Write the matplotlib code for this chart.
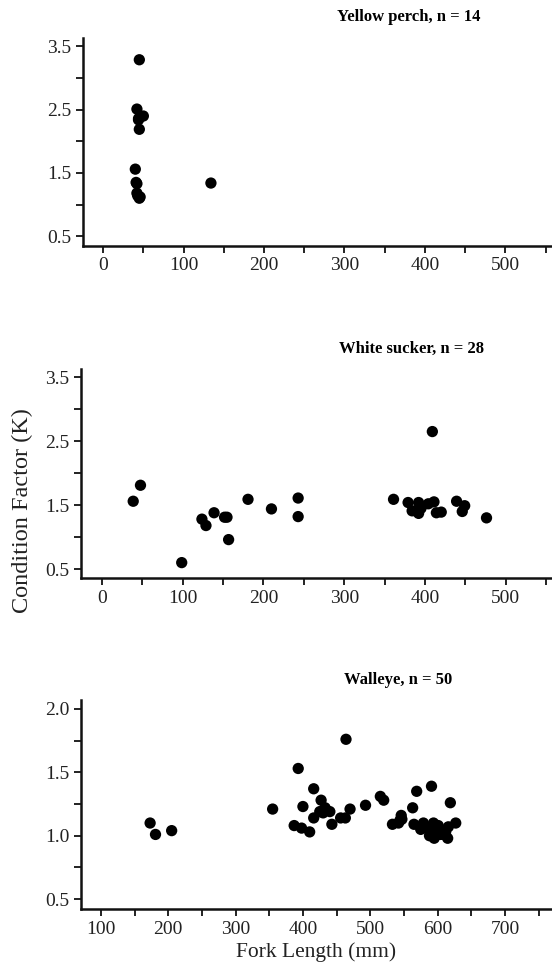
import matplotlib
matplotlib.use("Agg")
import matplotlib.pyplot as plt
from matplotlib.ticker import MultipleLocator, FormatStrFormatter

plt.rcParams['font.family'] = ['Liberation Serif', 'DejaVu Serif']

# yellow perch
yp_len = [45, 42, 50, 44, 45, 40, 41, 42, 45, 134, 43, 44, 42, 46]
yp_k = [3.29, 2.51, 2.40, 2.34, 2.19, 1.56, 1.35, 1.18, 1.10, 1.34, 1.14, 2.36, 1.33, 1.12]

# white sucker
ws_len = [39, 48, 99, 124, 129, 139, 152, 155, 157, 181, 210, 243, 243,
          361, 379, 384, 392, 392, 404, 409, 411, 414, 420, 439, 446, 449, 476, 395]
ws_k = [1.56, 1.81, 0.60, 1.28, 1.18, 1.38, 1.31, 1.31, 0.96, 1.59, 1.44, 1.61, 1.32,
        1.59, 1.54, 1.41, 1.37, 1.54, 1.52, 2.65, 1.55, 1.38, 1.39, 1.56, 1.40, 1.49, 1.30, 1.45]

# walleye
wa_len = [173, 181, 205, 355, 393, 387, 398, 400, 410, 416, 416, 427, 425, 433,
          440, 443, 456, 463, 464, 470, 493, 515, 520, 533, 542, 546, 547, 563,
          565, 569, 575, 579, 588, 591, 594, 595, 598, 604, 608, 615, 616, 619,
          627, 589, 597, 601, 583, 544, 430, 612]
wa_k = [1.10, 1.01, 1.04, 1.21, 1.53, 1.08, 1.06, 1.23, 1.03, 1.37, 1.14, 1.28, 1.19, 1.22,
        1.19, 1.09, 1.14, 1.14, 1.76, 1.21, 1.24, 1.31, 1.28, 1.09, 1.10, 1.16, 1.13, 1.22,
        1.09, 1.35, 1.05, 1.10, 1.00, 1.39, 1.10, 0.98, 1.07, 1.01, 1.01, 0.98, 1.07, 1.26,
        1.10, 1.04, 1.02, 1.08, 1.06, 1.12, 1.18, 1.03]

fig = plt.figure(figsize=(5.52, 9.66), dpi=100)


def panel(rect, x, y, xlim, ylim, title, title_x, title_y):
    ax = fig.add_axes(rect)
    ax.scatter(x, y, s=66, color='black', edgecolors='none', zorder=3, clip_on=False)
    ax.set_xlim(*xlim)
    ax.set_ylim(*ylim)
    ax.spines['top'].set_visible(False)
    ax.spines['right'].set_visible(False)
    for s in ['left', 'bottom']:
        ax.spines[s].set_linewidth(1.8)
        ax.spines[s].set_color('#111111')
    ax.xaxis.set_major_locator(MultipleLocator(100))
    ax.xaxis.set_minor_locator(MultipleLocator(50))
    ax.tick_params(which='both', direction='out', length=5, width=1.4,
                   color='#222222', labelsize=14, labelcolor='#222222')
    fig.text(title_x, title_y, title, ha='center', va='center',
             fontsize=12, fontweight='bold')
    return ax


# panel 1
ax1 = panel([0.1504, 0.7457, 0.8496, 0.2147], yp_len, yp_k, (-25, 558), (0.35, 3.63),
            'Yellow perch, n = 14', 0.741, 0.982)
ax1.yaxis.set_minor_locator(MultipleLocator(0.5))
ax1.set_yticks([0.5, 1.5, 2.5, 3.5])

# panel 2
ax2 = panel([0.1467, 0.4017, 0.8533, 0.2164], ws_len, ws_k, (-25.6, 557), (0.36, 3.63),
            'White sucker, n = 28', 0.745, 0.639)
ax2.yaxis.set_minor_locator(MultipleLocator(0.5))
ax2.set_yticks([0.5, 1.5, 2.5, 3.5])

# panel 3
ax3 = panel([0.1467, 0.0587, 0.8533, 0.2167], wa_len, wa_k, (70.3, 770), (0.42, 2.07),
            'Walleye, n = 50', 0.721, 0.296)
ax3.yaxis.set_major_locator(MultipleLocator(0.5))
ax3.yaxis.set_minor_locator(MultipleLocator(0.25))
ax3.yaxis.set_major_formatter(FormatStrFormatter('%.1f'))
ax3.set_xlabel('Fork Length (mm)', fontsize=15.5, color='#222222', labelpad=3)

fig.text(22 / 552, 1 - 511 / 966, 'Condition Factor (K)', rotation=90,
         ha='center', va='center', fontsize=17.5, color='#222222')

fig.savefig('out.png', dpi=100)
